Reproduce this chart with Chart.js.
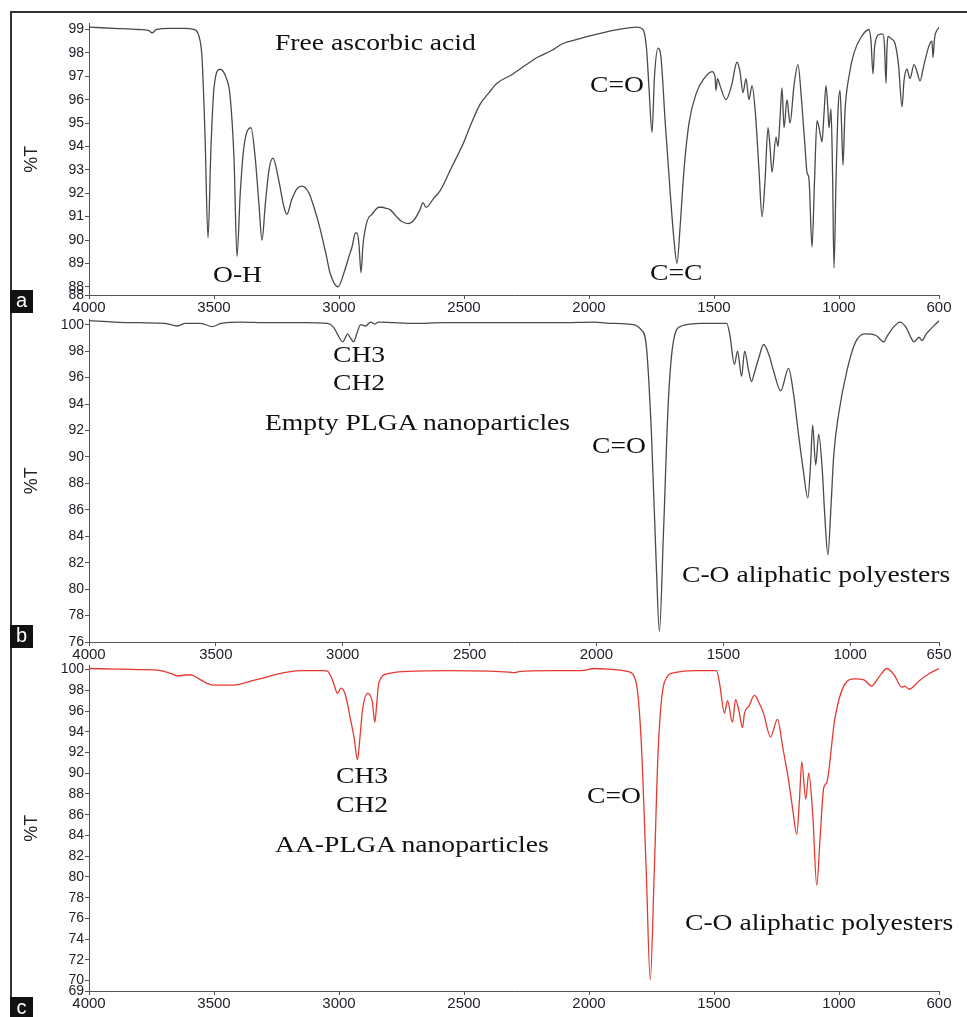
<!DOCTYPE html>
<html lang="en">
  <head>
    <meta charset="UTF-8" />
    <title>FTIR spectra</title>
    <script src="https://cdn.jsdelivr.net/npm/chart.js"></script>
    <style>
      body {
        margin: 0;
        background: white;
        width: 967px;
        height: 1017px;
        position: relative;
        overflow: hidden;
        font-family: Arial, "Liberation Sans", sans-serif;
      }
      canvas {
        position: absolute;
        left: 0;
      }
      .frame-top {
        position: absolute;
        left: 10px;
        top: 11px;
        width: 957px;
        height: 1.5px;
        background: #333;
      }
      .frame-left {
        position: absolute;
        left: 10px;
        top: 11px;
        width: 1.5px;
        height: 1006px;
        background: #333;
      }
      .tag {
        position: absolute;
        left: 10px;
        width: 23px;
        height: 23px;
        background: #111;
        color: white;
        font-size: 20px;
        line-height: 21px;
        text-align: center;
      }
      .note {
        position: absolute;
        font-family: "Liberation Serif", "Times New Roman", serif;
        font-size: 23px;
        line-height: 23px;
        color: #111;
        white-space: nowrap;
        transform: scaleX(1.2);
        transform-origin: left top;
      }
    </style>
  </head>
  <body>
    <div class="frame-top"></div>
    <div class="frame-left"></div>

    <canvas id="chartA" width="967" height="302" style="top: 14px"></canvas>
    <canvas id="chartB" width="967" height="354" style="top: 310px"></canvas>
    <canvas id="chartC" width="967" height="357" style="top: 656px"></canvas>

    <div class="tag" style="top: 290px">a</div>
    <div class="tag" style="top: 625px">b</div>
    <div class="tag" style="top: 997px">c</div>

    <div class="note" style="left: 275px; top: 31px">Free ascorbic acid</div>
    <div class="note" style="left: 213px; top: 263px">O-H</div>
    <div class="note" style="left: 590px; top: 73px">C=O</div>
    <div class="note" style="left: 650px; top: 261px">C=C</div>

    <div class="note" style="left: 333px; top: 343px">CH3</div>
    <div class="note" style="left: 333px; top: 371px">CH2</div>
    <div class="note" style="left: 265px; top: 411px">Empty PLGA nanoparticles</div>
    <div class="note" style="left: 592px; top: 434px">C=O</div>
    <div class="note" style="left: 682px; top: 563px">C-O aliphatic polyesters</div>

    <div class="note" style="left: 336px; top: 764px">CH3</div>
    <div class="note" style="left: 336px; top: 793px">CH2</div>
    <div class="note" style="left: 275px; top: 833px">AA-PLGA nanoparticles</div>
    <div class="note" style="left: 587px; top: 784px">C=O</div>
    <div class="note" style="left: 685px; top: 911px">C-O aliphatic polyesters</div>

    <script>
      // panel a - free ascorbic acid
      const aWn = [
        4000, 3900, 3800, 3760, 3748, 3730, 3680, 3620, 3580, 3560, 3548, 3536,
        3524, 3512, 3500, 3476, 3450, 3436, 3420, 3408, 3395, 3380, 3352, 3335,
        3320, 3308, 3295, 3280, 3264, 3240, 3220, 3208, 3190, 3168, 3148, 3120,
        3100, 3076, 3050, 3036, 3004, 2980, 2960, 2948, 2934, 2928, 2920, 2912,
        2904, 2888, 2868, 2840, 2828, 2810, 2796, 2770, 2750, 2724, 2700, 2676,
        2664, 2652, 2620, 2596, 2550, 2504, 2470, 2436, 2400, 2368, 2304, 2250,
        2208, 2150, 2104, 2040, 1968, 1880, 1808, 1784, 1770, 1760, 1748, 1738,
        1724, 1712, 1695, 1675, 1660, 1648, 1636, 1620, 1600, 1570, 1540, 1508,
        1496, 1492, 1486, 1476, 1452, 1430, 1408, 1396, 1384, 1372, 1360, 1348,
        1335, 1320, 1308, 1296, 1284, 1276, 1268, 1252, 1244, 1236, 1228, 1220,
        1208, 1196, 1180, 1164, 1150, 1136, 1128, 1120, 1108, 1098, 1088, 1078,
        1068, 1060, 1052, 1044, 1040, 1032, 1026, 1020, 1012, 1004, 996, 990,
        984, 976, 960, 940, 910, 880, 872, 864, 858, 848, 836, 824, 818, 812,
        808, 804, 790, 776, 762, 748, 740, 728, 716, 700, 688, 676, 660, 640,
        628, 624, 618, 600,
      ];
      const aT = [
        99.1, 99.05, 99.0, 98.95, 98.85, 99.0, 99.05, 99.05, 99.0, 98.7, 97.8,
        94.5, 90.1, 94.0, 96.5, 97.3, 96.9, 96.2, 93.5, 89.3, 92.0, 94.0, 94.8,
        93.5, 91.5, 90.0, 91.5, 93.0, 93.5, 92.5, 91.4, 91.1, 91.7, 92.2, 92.3,
        92.0, 91.4, 90.5, 89.3, 88.6, 88.0, 88.6, 89.3, 89.7, 90.3, 90.3, 89.8,
        88.6, 89.8, 90.8, 91.1, 91.4, 91.4, 91.35, 91.3, 91.0, 90.8, 90.7, 90.85,
        91.3, 91.6, 91.4, 91.8, 92.1, 93.1, 94.1, 95.0, 95.8, 96.3, 96.7, 97.1,
        97.5, 97.8, 98.1, 98.4, 98.6, 98.8, 99.0, 99.1, 99.0, 98.2, 96.5, 94.6,
        97.0, 98.2, 97.8, 95.0, 92.0, 90.0, 89.0, 90.5, 93.0, 95.0, 96.3, 96.9,
        97.2, 97.0, 96.4, 96.9, 96.6, 96.0, 96.6, 97.6, 97.2, 96.3, 96.9, 96.0,
        96.6, 95.5, 93.0, 91.0, 92.5, 94.8, 94.0, 92.9, 94.4, 94.0, 95.2, 96.5,
        94.8, 96.0, 95.0, 96.6, 97.5, 96.0, 94.0, 92.9, 92.6, 89.7, 92.5, 95.1,
        94.7, 94.2, 95.4, 96.6, 95.5, 94.8, 95.6, 93.0, 88.8, 92.5, 95.5, 96.4,
        95.0, 93.2, 95.5, 97.0, 98.0, 98.7, 99.0, 98.5, 97.1, 98.2, 98.7, 98.8,
        98.8, 98.3, 96.7, 98.2, 98.7, 98.6, 98.4, 97.5, 95.7, 96.8, 97.3, 96.9,
        97.5, 97.2, 96.8, 97.5, 98.3, 98.5, 97.8, 98.6, 99.1,
      ];

      // panel b - empty PLGA nanoparticles
      const bWn = [
        4000, 3900, 3800, 3700, 3652, 3620, 3560, 3514, 3480, 3400, 3300, 3150,
        3060, 3036, 3010, 3000, 2990, 2981, 2970, 2957, 2945, 2929, 2910, 2890,
        2874, 2858, 2800, 2720, 2600, 2400, 2200, 2139, 2009, 1950, 1874, 1823,
        1803, 1783, 1764, 1752, 1736, 1717, 1697, 1665, 1586, 1487, 1475, 1456,
        1444, 1428, 1416, 1400, 1389, 1377, 1360, 1341, 1320, 1302, 1274, 1243,
        1225, 1203, 1185, 1167, 1156, 1148, 1136, 1124, 1110, 1100, 1088, 1075,
        1065, 1045, 1013, 981, 942, 900, 867, 855, 830, 804, 780, 760, 749, 729,
        717, 700, 650,
      ];
      const bT = [
        100.3, 100.2, 100.15, 100.1, 99.9, 100.1, 100.1, 99.85, 100.1, 100.2,
        100.15, 100.15, 100.1, 99.8, 98.9, 98.7, 99.0, 99.3, 99.0, 98.7, 99.3,
        100.0, 99.9, 100.2, 100.05, 100.2, 100.15, 100.1, 100.15, 100.15, 100.15,
        100.15, 100.2, 100.1, 100.05, 99.6, 98.3, 91.6, 81.7, 76.8, 84.2, 94.1,
        98.7, 99.9, 100.1, 100.1, 99.3, 97.0, 98.0, 96.1, 98.0, 96.5, 95.7, 96.4,
        97.5, 98.5, 97.7, 96.5, 95.0, 96.7, 95.0, 91.6, 89.0, 86.9, 89.5, 92.4,
        89.4, 91.7, 89.0, 85.5, 82.6, 86.5, 90.1, 93.3, 96.5, 98.6, 99.3, 99.2,
        98.7, 99.1, 99.8, 100.2, 99.8, 99.0, 98.7, 99.05, 98.8, 99.3, 100.3,
      ];

      // panel c - AA-PLGA nanoparticles
      const cWn = [
        4000, 3900, 3800, 3715, 3670, 3647, 3595, 3560, 3530, 3503, 3450, 3407,
        3350, 3286, 3220, 3154, 3062, 3046, 3030, 3022, 3006, 2992, 2975, 2954,
        2940, 2926, 2916, 2906, 2885, 2866, 2857, 2848, 2841, 2805, 2700, 2565,
        2400, 2320, 2300, 2280, 2150, 2031, 1979, 1900, 1843, 1811, 1791, 1771,
        1755, 1739, 1723, 1698, 1658, 1578, 1490, 1478, 1458, 1446, 1426, 1414,
        1400, 1386, 1378, 1360, 1338, 1320, 1302, 1274, 1246, 1225, 1201, 1185,
        1169, 1158, 1149, 1133, 1121, 1105, 1089, 1075, 1061, 1049, 1017, 981,
        937, 900, 869, 857, 830, 809, 780, 748, 736, 720, 680, 640, 600,
      ];
      const cT = [
        100.1, 100.05, 100.0, 99.9, 99.6, 99.4, 99.5, 99.1, 98.7, 98.5, 98.5,
        98.55, 98.9, 99.3, 99.7, 99.9, 99.9, 99.85, 99.2, 98.7, 97.7, 98.2, 97.6,
        95.2, 93.5, 91.3, 93.5, 96.1, 97.7, 96.8, 94.9, 97.0, 98.7, 99.6, 99.85,
        99.9, 99.85, 99.75, 99.7, 99.8, 99.9, 99.9, 100.1, 100.0, 99.8, 98.7,
        93.0, 80.5, 70.1, 80.5, 92.4, 98.8, 99.7, 99.9, 99.9, 98.7, 95.8, 97.0,
        94.9, 97.1, 96.0, 94.4, 95.8, 96.5, 97.5, 96.8, 95.8, 93.5, 95.2, 92.5,
        89.2, 86.5, 84.1, 87.5, 91.1, 87.5, 90.0, 86.0, 79.2, 84.0, 88.6, 89.1,
        95.2, 98.4, 99.1, 99.0, 98.4, 98.7, 99.6, 100.1, 99.5, 98.3, 98.4, 98.1,
        98.9, 99.6, 100.1,
      ];

      // tick labels
      const xTicksA = [4000, 3500, 3000, 2500, 2000, 1500, 1000, 600];
      const xTicksB = [4000, 3500, 3000, 2500, 2000, 1500, 1000, 650];
      const xTicksC = [4000, 3500, 3000, 2500, 2000, 1500, 1000, 600];
      const yTicksA = [87.65, 88, 89, 90, 91, 92, 93, 94, 95, 96, 97, 98, 99];
      const yTicksB = [76, 78, 80, 82, 84, 86, 88, 90, 92, 94, 96, 98, 100];
      const yTicksC = [
        69, 70, 72, 74, 76, 78, 80, 82, 84, 86, 88, 90, 92, 94, 96, 98, 100,
      ];

      const axisColor = "#555";
      const tickColor = "#22222a";

      function makeChart(id, wn, t, color, xMin, xTicks, yMin, yMax, yTicks, padTop, xHeight) {
        const ctx = document.getElementById(id).getContext("2d");
        return new Chart(ctx, {
          type: "line",
          data: {
            datasets: [
              {
                data: wn.map((w, i) => ({ x: w, y: t[i] })),
                borderColor: color,
                borderWidth: 1.3,
                pointRadius: 0,
                cubicInterpolationMode: "monotone",
                fill: false,
              },
            ],
          },
          options: {
            responsive: false,
            animation: false,
            devicePixelRatio: 1,
            layout: { padding: { top: padTop, right: 28, left: 0, bottom: 0 } },
            plugins: {
              legend: { display: false },
              tooltip: { enabled: false },
            },
            scales: {
              x: {
                type: "linear",
                reverse: true,
                min: xMin,
                max: 4000,
                afterBuildTicks: (axis) => {
                  axis.ticks = xTicks.map((v) => ({ value: v }));
                },
                afterFit: (axis) => {
                  axis.height = xHeight;
                },
                border: { display: true, color: axisColor, width: 1 },
                grid: {
                  drawOnChartArea: false,
                  drawTicks: true,
                  tickLength: 4,
                  color: axisColor,
                },
                ticks: {
                  autoSkip: false,
                  maxRotation: 0,
                  padding: 0,
                  color: tickColor,
                  font: { family: "Arial", size: 15 },
                  callback: (v) => String(v),
                },
              },
              y: {
                min: yMin,
                max: yMax,
                afterBuildTicks: (axis) => {
                  axis.ticks = yTicks.map((v) => ({ value: v }));
                },
                afterFit: (axis) => {
                  axis.width = 89;
                },
                border: { display: true, color: axisColor, width: 1 },
                grid: {
                  drawOnChartArea: false,
                  drawTicks: true,
                  tickLength: 4,
                  color: axisColor,
                },
                title: {
                  display: true,
                  text: "%T",
                  color: "#222",
                  font: { family: "Arial", size: 18 },
                  padding: { top: 21, bottom: 0 },
                },
                ticks: {
                  autoSkip: false,
                  padding: 1,
                  color: tickColor,
                  font: { family: "Arial", size: 14 },
                  callback: (v) => String(Math.round(v)),
                },
              },
            },
          },
        });
      }

      makeChart("chartA", aWn, aT, "#4a4a4a", 600, xTicksA, 87.65, 99.26, yTicksA, 8, 21);
      makeChart("chartB", bWn, bT, "#4a4a4a", 650, xTicksB, 76, 100.4, yTicksB, 6, 22);
      makeChart("chartC", cWn, cT, "#e53a32", 600, xTicksC, 69, 100.4, yTicksC, 6, 22);
    </script>
  </body>
</html>
